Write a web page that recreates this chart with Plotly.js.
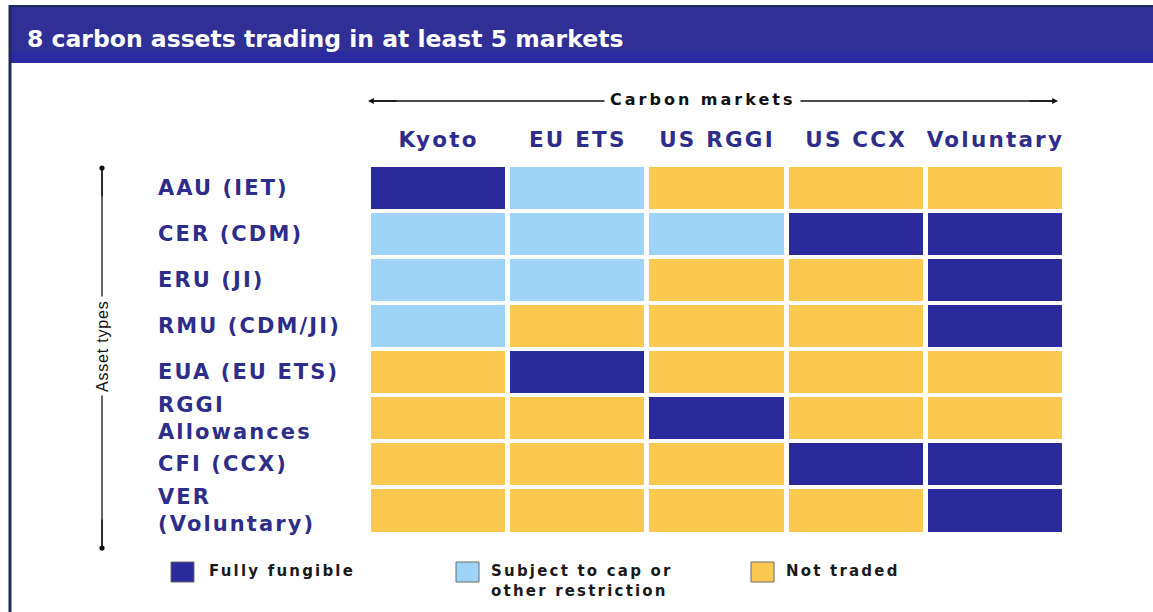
<!DOCTYPE html>
<html>
<head>
<meta charset="utf-8">
<script src="https://cdn.plot.ly/plotly-3.0.1.min.js"></script>
<style>
  html, body { margin: 0; padding: 0; background: #ffffff; }
  #chart { width: 1153px; height: 612px; }
  #chart .xtick text { letter-spacing: 2.2px; }
</style>
</head>
<body>
<div id="chart"></div>
<script>
// ---------- DATA ----------
const markets = ["Kyoto", "EU ETS", "US RGGI", "US CCX", "Voluntary"];
const assetTypes = ["AAU (IET)", "CER (CDM)", "ERU (JI)", "RMU (CDM/JI)", "EUA (EU ETS)",
                    "RGGI<br>Allowances", "CFI (CCX)", "VER<br>(Voluntary)"];
// 2 = Fully fungible, 1 = Subject to cap or other restriction, 0 = Not traded
const statusAAU  = [2, 1, 0, 0, 0];
const statusCER  = [1, 1, 1, 2, 2];
const statusERU  = [1, 1, 0, 0, 2];
const statusRMU  = [1, 0, 0, 0, 2];
const statusEUA  = [0, 2, 0, 0, 0];
const statusRGGI = [0, 0, 2, 0, 0];
const statusCFI  = [0, 0, 0, 2, 2];
const statusVER  = [0, 0, 0, 0, 2];
const statusNames = ["Not traded", "Subject to cap or<br>other restriction", "Fully fungible"];
const titleText = "8 carbon assets trading in at least 5 markets";
const xGroupTitle = "Carbon markets";
const yGroupTitle = "Asset types";

// ---------- STYLE ----------
const NAVY = "#2b2a9c", LIGHT = "#9ed4f8", YELLOW = "#fbc94f";
const TEXTNAVY = "#2e2d8a";
const statusColors = [YELLOW, LIGHT, NAVY];
const FONT = "DejaVu Sans, Liberation Sans, Arial, sans-serif";

const W = 1153, H = 612;
const L = 369, R = 1065, T = 165, B = 538;
const PW = R - L, PH = B - T;
const PX = x => (x - L) / PW;
const PY = y => (B - y) / PH;
const sp = (s, px) => s.split("<br>").map(t => '<span style="letter-spacing:' + px + 'px">' + t + '</span>').join("<br>");

const z = [statusAAU, statusCER, statusERU, statusRMU, statusEUA, statusRGGI, statusCFI, statusVER];

const heat = {
  type: "heatmap",
  x: markets,
  y: assetTypes,
  z: z,
  zmin: 0, zmax: 2,
  colorscale: [[0, YELLOW], [0.3333, YELLOW], [0.3333, LIGHT], [0.6667, LIGHT], [0.6667, NAVY], [1, NAVY]],
  showscale: false,
  xgap: 5, ygap: 4,
  hoverinfo: "x+y"
};

const shapes = [];
const annotations = [];

// header bar
shapes.push({type: "rect", xref: "paper", yref: "paper", x0: PX(9), x1: PX(1160), y0: PY(63), y1: PY(5),
  fillcolor: "#302f96", line: {width: 0}, layer: "below"});
shapes.push({type: "rect", xref: "paper", yref: "paper", x0: PX(9), x1: PX(1160), y0: PY(63), y1: PY(51),
  fillcolor: "#2b2aa2", line: {width: 0}, layer: "below"});
shapes.push({type: "line", xref: "paper", yref: "paper", x0: PX(9), x1: PX(1160), y0: PY(6), y1: PY(6),
  line: {color: "#1c2a5c", width: 2}, layer: "below"});
// left border
shapes.push({type: "line", xref: "paper", yref: "paper", x0: PX(10), x1: PX(10), y0: PY(5), y1: PY(615),
  line: {color: "#1c2a5c", width: 3}, layer: "below"});

// Carbon markets arrow line
shapes.push({type: "line", xref: "paper", yref: "paper", x0: PX(370), x1: PX(1056), y0: PY(101), y1: PY(101),
  line: {color: "#111", width: 1.3}});
annotations.push({xref: "paper", yref: "paper", x: PX(368), y: PY(101), ax: 30, ay: 0, text: "",
  showarrow: true, arrowhead: 2, arrowsize: 0.9, arrowwidth: 1.3, arrowcolor: "#111"});
annotations.push({xref: "paper", yref: "paper", x: PX(1058), y: PY(101), ax: -30, ay: 0, text: "",
  showarrow: true, arrowhead: 2, arrowsize: 0.9, arrowwidth: 1.3, arrowcolor: "#111"});
annotations.push({xref: "paper", yref: "paper", x: PX(702), y: PY(99), text: sp(xGroupTitle, 3),
  showarrow: false, xanchor: "center", yanchor: "middle", bgcolor: "#ffffff", borderpad: 5,
  font: {family: FONT, size: 16, color: "#111", weight: "bold"}});

// Asset types arrow line
shapes.push({type: "line", xref: "paper", yref: "paper", x0: PX(102), x1: PX(102), y0: PY(170), y1: PY(546),
  line: {color: "#111", width: 1.3}});
annotations.push({xref: "paper", yref: "paper", x: PX(102), y: PY(168), ax: 0, ay: 30, text: "",
  showarrow: true, arrowhead: 6, arrowsize: 1, arrowwidth: 1.3, arrowcolor: "#111"});
annotations.push({xref: "paper", yref: "paper", x: PX(102), y: PY(548), ax: 0, ay: -30, text: "",
  showarrow: true, arrowhead: 6, arrowsize: 1, arrowwidth: 1.3, arrowcolor: "#111"});
annotations.push({xref: "paper", yref: "paper", x: PX(102), y: PY(346), text: sp(yGroupTitle, 0.8),
  showarrow: false, textangle: -90, xanchor: "center", yanchor: "middle", bgcolor: "#ffffff", borderpad: 3,
  font: {family: "Liberation Sans Narrow, Liberation Sans, Arial, sans-serif", size: 16, color: "#111"}});

// row labels (left aligned)
assetTypes.forEach(a => {
  annotations.push({xref: "paper", yref: "y", x: PX(156), y: a, text: sp(a, 2.1), showarrow: false,
    xanchor: "left", yanchor: "middle", align: "left",
    font: {family: FONT, size: 21, color: TEXTNAVY, weight: "bold"}});
});

// legend
const legendItems = [
  {idx: 2, sx: 171, tx: 207},
  {idx: 1, sx: 456, tx: 489},
  {idx: 0, sx: 751, tx: 784}
];
legendItems.forEach(it => {
  shapes.push({type: "rect", xref: "paper", yref: "paper", x0: PX(it.sx), x1: PX(it.sx + 23),
    y0: PY(582), y1: PY(562), fillcolor: statusColors[it.idx], line: {color: "#6a6a6a", width: 1}});
  annotations.push({xref: "paper", yref: "paper", x: PX(it.tx), y: PY(560), text: sp(statusNames[it.idx], 2.2),
    showarrow: false, xanchor: "left", yanchor: "top", align: "left",
    font: {family: FONT, size: 15, color: "#1a1a1a", weight: "bold"}});
});

const layout = {
  width: W, height: H,
  margin: {l: L, r: W - R, t: T, b: H - B, pad: 0},
  paper_bgcolor: "#ffffff",
  plot_bgcolor: "#ffffff",
  title: {text: titleText, xref: "container", yref: "container", x: 27 / W, xanchor: "left",
    y: 1 - 39 / H, yanchor: "middle",
    font: {family: FONT, size: 23.5, color: "#ffffff", weight: "bold"}},
  xaxis: {type: "category", side: "top", showgrid: false, zeroline: false, showline: false,
    ticks: "", ticklabelstandoff: 13,
    tickfont: {family: FONT, size: 21.5, color: TEXTNAVY, weight: "bold"}},
  yaxis: {type: "category", autorange: "reversed", showgrid: false, zeroline: false,
    showline: false, showticklabels: false, ticks: ""},
  shapes: shapes,
  annotations: annotations,
  showlegend: false
};

Plotly.newPlot("chart", [heat], layout, {displayModeBar: false, staticPlot: true});
</script>
</body>
</html>
